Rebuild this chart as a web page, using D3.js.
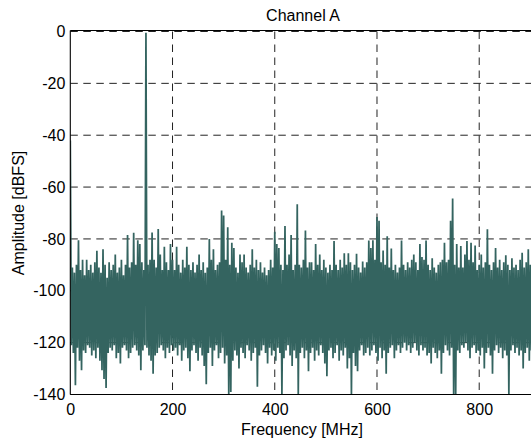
<!DOCTYPE html>
<html><head><meta charset="utf-8">
<script src="https://cdn.jsdelivr.net/npm/d3@7"></script>
<style>body{margin:0;background:#fff}svg{display:block}</style>
</head><body>
<script>
// ---- data ----
const binStepMHz = 4;            // spacing of the spectrum bins
const title = "Channel A";
const xLabel = "Frequency [MHz]";
const yLabel = "Amplitude [dBFS]";
const xTicks = [0, 200, 400, 600, 800];
const yTicks = [0, -20, -40, -60, -80, -100, -120, -140];
// per-bin maximum (dBFS)
const peakDb = [
 -42,-91,-93,-90,-80.5,-92,-88,-94,-88,-92,
 -90,-93,-89,-84.6,-91,-93,-84,-90,-95,-89,
 -92,-90,-86,-93,-91,-88,-94,-90,-78.5,-91,
 -89,-77.6,-90,-80.5,-82,-89,-92,-0.5,-90,-88,
 -77.5,-88,-91,-76.2,-86,-92,-83,-89,-92,-82,
 -88,-92,-83,-90,-93,-88,-91,-83,-90,-92,
 -89,-93,-90,-86,-92,-89,-93,-91,-80,-88,
 -84,-92,-90,-89,-69,-71,-88,-75.5,-90,-81.5,
 -83.5,-91,-93,-86,-89,-86,-91,-93,-90,-84,
 -91,-88,-92,-89,-93,-91,-94,-92,-88,-91,
 -77.2,-82,-83.5,-90,-92,-75,-90,-86,-78.5,-92,
 -90,-66.6,-90,-91,-88,-76.8,-91,-89,-89,-92,
 -82,-90,-86,-92,-88,-91,-93,-90,-92,-80.8,
 -90,-92,-88,-91,-85.5,-90,-85.5,-89,-92,-90,
 -85.7,-91,-93,-88.7,-91,-89,-80.6,-83.5,-80.5,-88,
 -71.5,-73,-89,-84.5,-90,-79,-91,-83.7,-92,-90,
 -93,-91,-80.6,-90,-92,-89,-91,-88,-86,-89,
 -92,-82,-87,-88,-80.6,-90,-92,-87.5,-91,-93,
 -90,-89,-88,-81.5,-89,-88,-73,-64.4,-90,-82,
 -91,-82.7,-91,-86,-80.8,-88,-81.5,-89,-82.5,-92,
 -90,-86,-91,-89,-76.3,-90,-92,-89,-83.5,-91,
 -88,-92,-89,-86.3,-90,-92,-87.5,-91,-90,-92,
 -88,-85.3,-91,-89,-84,-90,-92,-89,-91
];
// per-bin minimum (dBFS)
const troughDb = [
 -121,-124,-136.4,-122,-127,-130.6,-123,-124,-121,-122,
 -125,-123,-126,-122,-127,-130.6,-134,-137.5,-124,-122,
 -123,-121,-126,-124,-128,-122,-121,-123,-126,-124,
 -122,-121,-123,-125,-130.6,-123,-121,-122,-125,-127,
 -132,-125,-124,-122,-121,-123,-126,-122,-124,-121,
 -123,-122,-125,-121,-127,-123,-122,-126,-131,-123,
 -121,-124,-127,-122,-125,-129,-136,-124,-122,-129,
 -123,-121,-126,-124,-122,-128,-125,-140,-139,-127,
 -123,-125,-130,-122,-124,-126,-121,-123,-127,-124,
 -122,-137,-125,-123,-121,-124,-128,-122,-125,-123,
 -127,-122,-124,-140,-126,-123,-121,-125,-129,-123,
 -126,-140,-124,-122,-126,-123,-131,-124,-122,-127,
 -123,-125,-121,-124,-128,-133,-123,-122,-126,-124,
 -121,-127,-123,-125,-122,-130,-126,-140,-124,-129,
 -131,-123,-121,-125,-124,-122,-125,-123,-121,-124,
 -127,-122,-126,-123,-132,-124,-122,-121,-126,-123,
 -121,-124,-122,-120,-123,-121,-124,-122,-120,-123,
 -125,-121,-123,-122,-125,-124,-128,-122,-124,-126,
 -123,-132,-124,-121,-123,-125,-122,-140,-140,-123,
 -124,-121,-122,-120,-123,-126,-122,-121,-124,-123,
 -125,-122,-130,-124,-122,-125,-132,-123,-121,-124,
 -122,-126,-123,-125,-140,-123,-121,-124,-122,-125,
 -123,-130,-124,-122,-127,-123,-125,-122,-124
];

// ---- layout ----
const W = 531, H = 443;
const pLeft = 70.3, pTop = 31.5, pBottom = 394.5;
const pRight = 538;
const xMax = 915;

const svg = d3.select("body").append("svg").attr("width", W).attr("height", H);
const x = d3.scaleLinear().domain([0, xMax]).range([pLeft, pRight]);
const y = d3.scaleLinear().domain([-140, 0]).range([pBottom, pTop]);

const font = "'Liberation Sans', Arial, sans-serif";

// grid
const grid = svg.append("g").attr("stroke", "#222").attr("stroke-width", 1)
  .attr("stroke-dasharray", "7.5,5.5").attr("fill", "none");
grid.selectAll("line.h").data(yTicks).join("line").attr("class", "h")
  .attr("x1", pLeft).attr("x2", pRight).attr("y1", d => y(d)).attr("y2", d => y(d));
grid.selectAll("line.v").data(xTicks.filter(d => d > 0)).join("line").attr("class", "v")
  .attr("y1", pTop).attr("y2", pBottom).attr("x1", d => x(d)).attr("x2", d => x(d));

// spectrum
const pts = [];
peakDb.forEach((p, i) => {
  const f = i * binStepMHz;
  pts.push([f, p]);
  pts.push([f + binStepMHz / 2, troughDb[i]]);
});
svg.append("defs").append("clipPath").attr("id", "clip").append("rect")
  .attr("x", pLeft).attr("y", pTop - 2).attr("width", pRight - pLeft).attr("height", pBottom - pTop + 2);
svg.append("path").datum(pts)
  .attr("clip-path", "url(#clip)")
  .attr("fill", "none").attr("stroke", "#346460").attr("stroke-width", 1.75)
  .attr("stroke-linejoin", "miter")
  .attr("d", d3.line().x(d => x(d[0])).y(d => y(d[1])));

// axes box
const box = svg.append("g").attr("stroke", "#000").attr("stroke-width", 1.1).attr("fill", "none");
box.append("line").attr("x1", pLeft).attr("x2", pLeft).attr("y1", pTop - 1).attr("y2", pBottom);
box.append("line").attr("x1", pLeft).attr("x2", pRight).attr("y1", pBottom).attr("y2", pBottom);
box.append("line").attr("x1", pLeft).attr("x2", pRight).attr("y1", pTop - 1).attr("y2", pTop - 1);

// axis tick labels via d3 axes
const xAxis = d3.axisBottom(x).tickValues(xTicks).tickSize(0).tickPadding(9).tickFormat(d3.format("d"));
const gx = svg.append("g").attr("transform", `translate(0,${pBottom})`).call(xAxis);
gx.select(".domain").remove();
gx.selectAll("text").attr("font-family", font).attr("font-size", 16).attr("fill", "#000");

const yAxis = d3.axisLeft(y).tickValues(yTicks).tickSize(0).tickPadding(5)
  .tickFormat(d => String(d).replace("\u2212", "-"));
const gy = svg.append("g").attr("transform", `translate(${pLeft},0)`).call(yAxis);
gy.select(".domain").remove();
gy.selectAll("text").attr("font-family", font).attr("font-size", 16).attr("fill", "#000");

// labels
svg.append("text").attr("x", 303).attr("y", 21).attr("text-anchor", "middle")
  .attr("font-family", font).attr("font-size", 16).text(title);
svg.append("text").attr("x", 302).attr("y", 435).attr("text-anchor", "middle")
  .attr("font-family", font).attr("font-size", 16).text(xLabel);
svg.append("text").attr("transform", `translate(24,${(pTop + pBottom) / 2}) rotate(-90)`)
  .attr("text-anchor", "middle").attr("font-family", font).attr("font-size", 16).text(yLabel);
</script>
</body></html>
